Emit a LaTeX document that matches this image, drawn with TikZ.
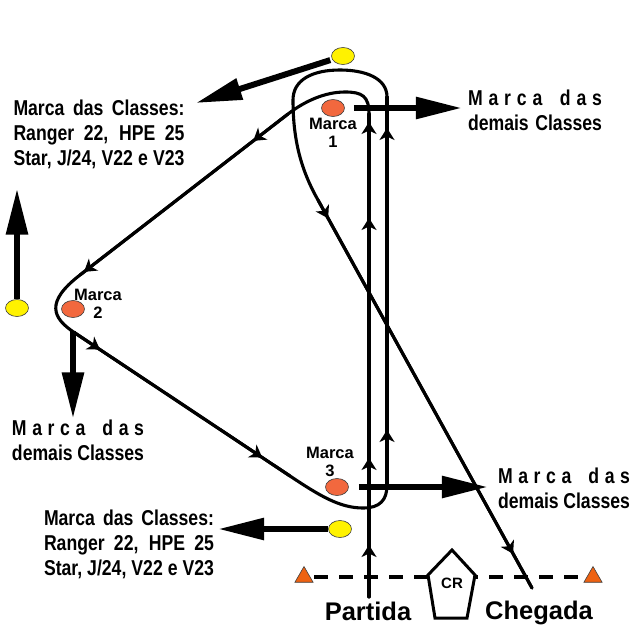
\documentclass[tikz,border=0pt]{standalone}
\usepackage{fontspec}
\setmainfont{Liberation Sans}
\newfontfamily\narrowfont[FakeStretch=0.82]{Liberation Sans}
\usetikzlibrary{arrows.meta,shapes.geometric,decorations.markings,positioning}

\definecolor{markorange}{RGB}{242,104,62}
\definecolor{buoyyellow}{RGB}{255,242,0}
\definecolor{pinorange}{RGB}{238,98,18}

\newcommand{\spacedmarca}[1]{\makebox[#1][s]{M\hfill a\hfill r\hfill c\hfill a\hfill\hfill\hfill d\hfill a\hfill s}}
\newcommand{\justline}[2]{\makebox[#1][s]{#2}}

\begin{document}
\begin{tikzpicture}[x=1pt,y=-1pt,line cap=round,
    course/.style={line width=3.1pt},
    flow/.style={postaction={decorate,decoration={markings,
        mark=at position #1 with {\arrow{Stealth[length=12pt,width=15pt,inset=3.5pt]}}}}},
    big arrow/.style={line width=6pt,line cap=butt,-{Triangle[length=46pt,width=21pt]}},
    marca node/.style={ellipse,draw=black!75,line width=0.6pt,fill=markorange,
        minimum width=23pt,minimum height=17pt,inner sep=0pt},
    buoy node/.style={marca node,fill=buoyyellow},
    pin node/.style={regular polygon,regular polygon sides=3,draw=black!75,line width=0.6pt,
        fill=pinorange,minimum size=21pt,inner sep=0pt},
    start line/.style={line width=3.5pt,line cap=butt,dash pattern=on 14pt off 11pt},
    small text/.style={font=\bfseries\fontsize{16.5}{17.5}\selectfont,align=center,inner sep=0pt},
    class text/.style={font=\narrowfont\bfseries\fontsize{21.5}{25}\selectfont,align=center,inner sep=0pt},
    line text/.style={font=\bfseries\fontsize{25.5}{28}\selectfont,inner sep=0pt}]

    \useasboundingbox (0,0) rectangle (632,624);

    \node[marca node] (m1) at (333,108) {};
    \node[marca node] (m2) at (73,309) {};
    \node[marca node] (m3) at (337,487) {};
    \node[buoy node] (b1) at (343,56) {};
    \node[buoy node] (b2) at (17,308) {};
    \node[buoy node] (b3) at (340,529) {};

    \node[small text] (l1) at (333,133) {Marca\\1};
    \node[small text] (l2) at (98,304) {Marca\\2};
    \node[small text] (l3) at (330,462) {Marca\\3};

    \node[class text] (t1) at (535,110) {\spacedmarca{134pt}\\\justline{134pt}{demais Classes}};
    \node[class text] (t2) at (99,134) {\justline{171pt}{Marca das Classes:}\\
        \justline{171pt}{Ranger 22, HPE 25}\\\justline{171pt}{Star, J/24, V22 e V23}};
    \node[class text] (t3) at (78,440) {\spacedmarca{132pt}\\\justline{132pt}{demais Classes}};
    \node[class text] (t4) at (564,488) {\spacedmarca{132pt}\\\justline{132pt}{demais Classes}};
    \node[class text] (t5) at (129,544) {\justline{170pt}{Marca das Classes:}\\
        \justline{170pt}{Ranger 22, HPE 25}\\\justline{170pt}{Star, J/24, V22 e V23}};

    \node[pin node] (p1) at (304,577) {};
    \node[pin node] (p2) at (593,577) {};
    \draw[start line,shorten <=4pt,shorten >=4pt] (p1) -- (p2);

    \draw[line width=3pt,line join=miter,fill=white]
        (452,550) -- (475,575) -- (467,618) -- (435,618) -- (428,575) -- cycle;
    \node[font=\bfseries\fontsize{15}{15}\selectfont,inner sep=0pt] (cr) at (452,583) {CR};

    \node[line text] (go) at (368,611) {Partida};
    \node[line text] (end) at (539,613) {Chegada};

    \coordinate (start) at (369,597);
    \coordinate (in1) at (369,114);
    \coordinate (d1) at (288,114);
    \coordinate (d2) at (80,275);
    \coordinate (e1) at (75,333);
    \coordinate (e2) at (290,476);
    \coordinate (o1) at (387,485);
    \coordinate (o2) at (387,97);
    \coordinate (f1) at (318,200);
    \coordinate (finish) at (532,588);
    \coordinate (tip1) at (196,103);

    \draw[course] (start) -- (in1)
        .. controls (369,96) and (362,92) .. (345,92)
        .. controls (325,92) and (305,101) .. (d1)
        -- (d2)
        .. controls (45,302) and (52,318) .. (e1)
        -- (e2)
        .. controls (320,496) and (340,508) .. (363,508)
        .. controls (380,508) and (387,500) .. (o1)
        -- (o2)
        .. controls (387,78) and (365,70) .. (340,70)
        .. controls (312,70) and (293,80) .. (293,100)
        .. controls (293,140) and (301,170) .. (f1)
        -- (finish);

    \draw[course,flow=52pt,flow=139pt,flow=379pt,flow=475pt] (start) -- (in1);
    \draw[course,flow=44pt,flow=258pt] (d1) -- (d2);
    \draw[course,flow=30pt,flow=225pt] (e1) -- (e2);
    \draw[course,flow=55pt,flow=357pt] (o1) -- (o2);
    \draw[course,flow=21pt,flow=404pt] (f1) -- (finish);

    \draw[big arrow,shorten <=2pt] (b1) -- (tip1);
    \draw[big arrow,shorten <=9pt,shorten >=6pt] (m1) -- (t1.west |- m1);
    \draw[big arrow,shorten >=20pt] (b2) -- (b2 |- t2.south);
    \draw[big arrow,shorten <=13pt,shorten >=1pt] (m2) -- (m2 |- t3.north);
    \draw[big arrow,shorten <=10pt,shorten >=10pt] (m3) -- (t4.west |- m3);
    \draw[big arrow,shorten >=4pt] (b3) -- (t5.east |- b3);
\end{tikzpicture}
\end{document}
